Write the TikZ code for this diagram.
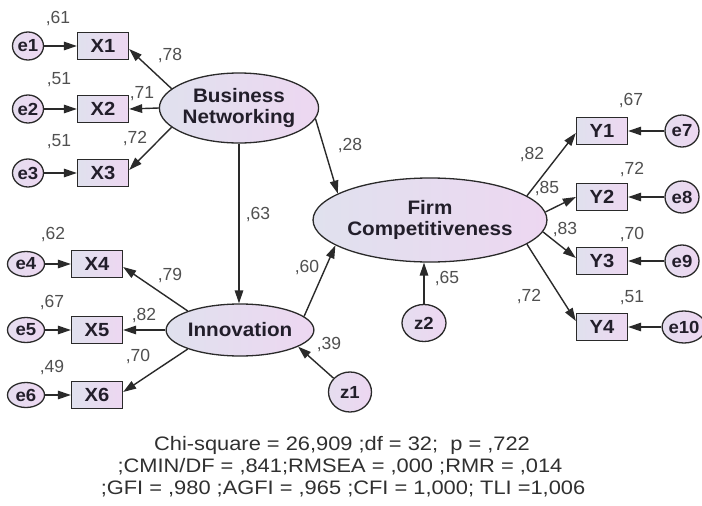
\documentclass[tikz,border=0pt]{standalone}
\usepackage{fontspec}
\setmainfont{Liberation Sans}
\newfontfamily\nodefont{Liberation Sans}[FakeStretch=1.06]
\newfontfamily\statfont{Liberation Sans}[FakeStretch=1.12]
\usetikzlibrary{arrows.meta,shapes.geometric}
\definecolor{lineC}{HTML}{2A2A2A}
\definecolor{fillL}{HTML}{E0E1EE}
\definecolor{fillR}{HTML}{EDD7F1}
\definecolor{lblC}{HTML}{505050}
\definecolor{txtC}{HTML}{221E2A}
\definecolor{statC}{HTML}{303030}
\tikzset{
  latent/.style={ellipse, draw=lineC, line width=1.3pt, left color=fillL, right color=fillR,
    inner sep=0pt, align=center, text=txtC,
    font=\nodefont\bfseries\fontsize{19.5}{21.5}\selectfont},
  obs/.style={rectangle, draw=lineC, line width=1.3pt, left color=fillL, right color=fillR,
    minimum width=51pt, minimum height=27pt, inner sep=0pt, text=txtC,
    font=\nodefont\bfseries\fontsize{19}{20}\selectfont},
  err/.style={ellipse, draw=lineC, line width=1.3pt, left color=fillL!60!fillR, right color=fillR,
    inner sep=0pt, text=txtC,
    font=\nodefont\bfseries\fontsize{17.5}{18}\selectfont},
  conn/.style={draw=lineC, line width=1.4pt, -{Triangle[length=13pt,width=8.5pt]}},
  coef/.style={inner sep=0pt, text=lblC, font=\fontsize{17.5}{18}\selectfont},
  stat/.style={inner sep=0pt, anchor=base, text=statC, font=\statfont\fontsize{19.5}{22}\selectfont}
}
\begin{document}
\begin{tikzpicture}[x=1pt,y=-1pt]
\fill[white] (0,0) rectangle (702,506);
\useasboundingbox (0,0) rectangle (702,506);

% latent variables
\node[latent, minimum width=140pt, minimum height=70pt] (BN) at (239,108) {Business\\Networking};
\node[latent, minimum width=134pt, minimum height=52pt] (INN) at (240,330) {Innovation};
\node[latent, minimum width=194pt, minimum height=84pt] (FC) at (430,220) {Firm\\Competitiveness};
\node[err, minimum width=43pt, minimum height=40pt] (z1) at (350,392) {z1};
\node[err, minimum width=44pt, minimum height=37pt] (z2) at (424,323) {z2};

% observed left
\node[obs] (X1) at (103,46) {X1};
\node[obs] (X2) at (103,109) {X2};
\node[obs] (X3) at (103,173) {X3};
\node[obs] (X4) at (97,264) {X4};
\node[obs] (X5) at (97,330) {X5};
\node[obs] (X6) at (97,395) {X6};
\node[err, minimum width=31pt, minimum height=28pt] (e1) at (28,46) {e1};
\node[err, minimum width=31pt, minimum height=28pt] (e2) at (28,109) {e2};
\node[err, minimum width=31pt, minimum height=28pt] (e3) at (28,173) {e3};
\node[err, minimum width=37pt, minimum height=25pt] (e4) at (26,264) {e4};
\node[err, minimum width=37pt, minimum height=25pt] (e5) at (26,330) {e5};
\node[err, minimum width=37pt, minimum height=25pt] (e6) at (26,395) {e6};

% observed right
\node[obs] (Y1) at (602,131) {Y1};
\node[obs] (Y2) at (602,197) {Y2};
\node[obs] (Y3) at (602,261) {Y3};
\node[obs] (Y4) at (602,327) {Y4};
\node[err, minimum width=34pt, minimum height=32pt] (e7) at (682,131) {e7};
\node[err, minimum width=34pt, minimum height=32pt] (e8) at (682,197) {e8};
\node[err, minimum width=34pt, minimum height=32pt] (e9) at (682,261) {e9};
\node[err, minimum width=37pt, minimum height=32pt] (e10) at (684,327) {e10};

% error arrows
\foreach \i in {1,...,6} { \draw[conn] (e\i) -- (X\i); }
\draw[conn] (e7) -- (Y1);
\draw[conn] (e8) -- (Y2);
\draw[conn] (e9) -- (Y3);
\draw[conn] (e10) -- (Y4);

% loadings
\draw[conn] (BN.164) -- ([yshift=-3pt]X1.east);
\draw[conn] (BN.west) -- (X2.east);
\draw[conn] (BN.196) -- ([yshift=3pt]X3.east);
\draw[conn] (INN.160) -- ([yshift=-3pt]X4.east);
\draw[conn] (INN.west) -- (X5.east);
\draw[conn] (INN.200) -- ([yshift=3pt]X6.east);
\draw[conn] (FC.14) -- ([yshift=-2pt]Y1.west);
\draw[conn] (FC.4) -- (Y2.west);
\draw[conn] (FC.-6) -- ([yshift=3pt]Y3.west);
\draw[conn] (FC.-14) -- ([yshift=6pt]Y4.west);

% structural paths
\draw[conn] (BN.south) -- (BN.south |- INN.north);
\draw[conn] (BN.-8) -- (FC.164);
\draw[conn] (INN.12) -- (FC.195);
\draw[conn] (z1.140) -- (INN.-16);
\draw[conn] (z2.north) -- (z2.north |- FC.south);

% coefficients
\node[coef] (c1) at (58,19) {,61};
\node[coef] (c2) at (59,80) {,51};
\node[coef] (c3) at (59,142) {,51};
\node[coef] (c4) at (170,56) {,78};
\node[coef] (c5) at (142,94) {,71};
\node[coef] (c6) at (135,139) {,72};
\node[coef] (c7) at (258,215) {,63};
\node[coef] (c8) at (53,235) {,62};
\node[coef] (c9) at (170,276) {,79};
\node[coef] (c10) at (52,303) {,67};
\node[coef] (c11) at (144,316) {,82};
\node[coef] (c12) at (138,357) {,70};
\node[coef] (c13) at (52,368) {,49};
\node[coef] (c14) at (307,268) {,60};
\node[coef] (c15) at (329,345) {,39};
\node[coef] (c16) at (350,146) {,28};
\node[coef] (c17) at (447,279) {,65};
\node[coef] (c18) at (532,155) {,82};
\node[coef] (c19) at (547,189) {,85};
\node[coef] (c20) at (565,230) {,83};
\node[coef] (c21) at (529,297) {,72};
\node[coef] (c22) at (631,101) {,67};
\node[coef] (c23) at (632,170) {,72};
\node[coef] (c24) at (632,235) {,70};
\node[coef] (c25) at (632,298) {,51};

% fit statistics
\node[stat] (s1) at (342,450) {Chi-square = 26,909 ;df = 32;\ \ p = ,722};
\node[stat] (s2) at (340,472) {;CMIN/DF = ,841;RMSEA = ,000 ;RMR = ,014};
\node[stat] (s3) at (343,494) {;GFI = ,980 ;AGFI = ,965 ;CFI = 1,000; TLI =1,006};
\end{tikzpicture}
\end{document}
